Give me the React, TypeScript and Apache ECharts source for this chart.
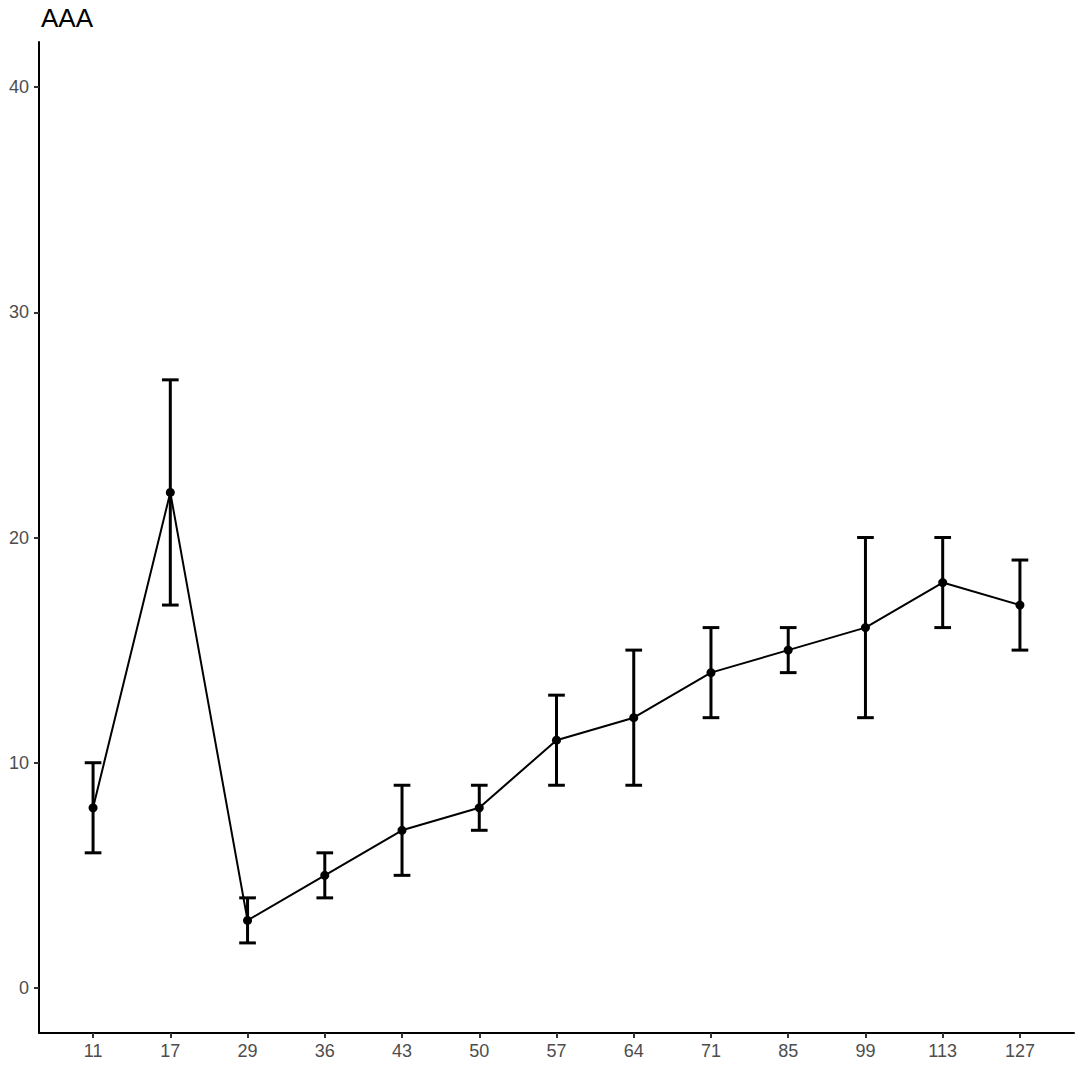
import React, { useEffect, useRef } from "react";
import * as echarts from "echarts";

const categories = ["11", "17", "29", "36", "43", "50", "57", "64", "71", "85", "99", "113", "127"];
const means = [8, 22, 3, 5, 7, 8, 11, 12, 14, 15, 16, 18, 17];
const lows = [6, 17, 2, 4, 5, 7, 9, 9, 12, 14, 12, 16, 15];
const highs = [10, 27, 4, 6, 9, 9, 13, 15, 16, 16, 20, 20, 19];
const yTicks = [0, 10, 20, 30, 40];
const titleText = "AAA";

export default function App() {
  const ref = useRef<HTMLDivElement>(null);
  useEffect(() => {
    if (!ref.current) return;
    const chart = echarts.init(ref.current, null, { renderer: "svg" });
    const idx = categories.map((_, i) => i);
    const font = "'Liberation Sans', Arial, sans-serif";
    chart.setOption({
      animation: false,
      backgroundColor: "#ffffff",
      title: {
        text: titleText,
        left: 36,
        top: 0,
        textStyle: { fontFamily: font, fontSize: 26, fontWeight: "normal", color: "#000000" },
      },
      grid: { left: 39, right: 6, top: 42, bottom: 36, containLabel: false },
      xAxis: {
        type: "value",
        min: -0.7,
        max: 12.7,
        splitLine: { show: false },
        axisLine: { show: true, onZero: false, lineStyle: { color: "#000000", width: 2 } },
        axisTick: { show: true, customValues: idx, length: 5, lineStyle: { color: "#333333", width: 2 } },
        axisLabel: {
          customValues: idx,
          margin: 9,
          fontFamily: font,
          fontSize: 18,
          color: "#4d4d4d",
          formatter: (v: number) => categories[Math.round(v)] ?? "",
        },
      },
      yAxis: {
        type: "value",
        min: -2,
        max: 42,
        splitLine: { show: false },
        axisLine: { show: true, onZero: false, lineStyle: { color: "#000000", width: 2 } },
        axisTick: { show: true, customValues: yTicks, length: 5, lineStyle: { color: "#333333", width: 2 } },
        axisLabel: {
          customValues: yTicks,
          margin: 10,
          fontFamily: font,
          fontSize: 18,
          color: "#4d4d4d",
        },
      },
      series: [
        {
          type: "custom",
          data: idx.map((i) => [i, lows[i], highs[i]]),
          renderItem: (params: any, api: any) => {
            const x = api.value(0);
            const lo = api.value(1);
            const hi = api.value(2);
            const hw = 0.108;
            const pLo = api.coord([x, lo]);
            const pHi = api.coord([x, hi]);
            const pLoL = api.coord([x - hw, lo]);
            const pLoR = api.coord([x + hw, lo]);
            const pHiL = api.coord([x - hw, hi]);
            const pHiR = api.coord([x + hw, hi]);
            const style = { stroke: "#000000", lineWidth: 3 };
            return {
              type: "group",
              children: [
                { type: "line", shape: { x1: pLo[0], y1: pLo[1], x2: pHi[0], y2: pHi[1] }, style },
                { type: "line", shape: { x1: pLoL[0], y1: pLoL[1], x2: pLoR[0], y2: pLoR[1] }, style },
                { type: "line", shape: { x1: pHiL[0], y1: pHiL[1], x2: pHiR[0], y2: pHiR[1] }, style },
              ],
            };
          },
          z: 2,
        },
        {
          type: "line",
          data: idx.map((i) => [i, means[i]]),
          symbol: "circle",
          symbolSize: 9,
          itemStyle: { color: "#000000" },
          lineStyle: { color: "#000000", width: 2 },
          z: 3,
        },
      ],
    });
    return () => chart.dispose();
  }, []);
  return <div ref={ref} style={{ width: 1080, height: 1069, position: "absolute", left: 0, top: 0 }} />;
}
